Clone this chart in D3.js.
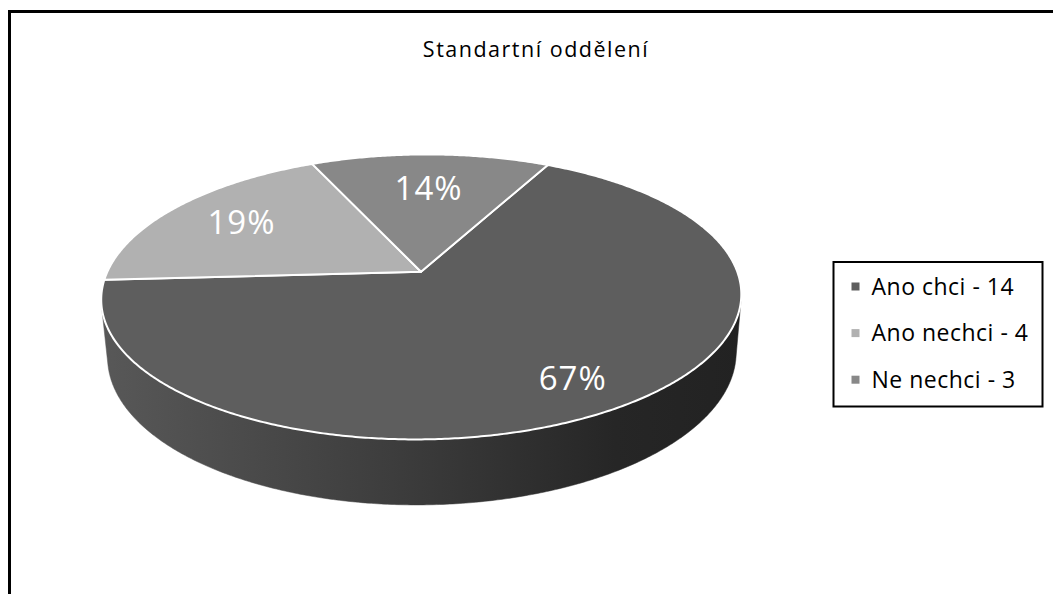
<!DOCTYPE html>
<html>
<head>
<meta charset="utf-8">
<script src="https://cdn.jsdelivr.net/npm/d3@7"></script>
<style>
  html, body { margin: 0; padding: 0; background: #fff; }
  svg { display: block; }
</style>
</head>
<body>
<svg id="chart" width="1053" height="594"></svg>
<script>
// ---- data ----
const chartTitle = "Standartní oddělení";
const categories = ["Ano chci", "Ano nechci", "Ne nechci"];
const values = [14, 4, 3];

// ---- styles ----
const sliceColors = ["#5e5e5e", "#b1b1b1", "#888888"];
const labelRadius = [0.8, 0.72, 0.68];   // where each percentage sits on the top face (fraction of radius)
const startDeg = 28;                      // rotation of the first slice, clockwise from the back

const svg = d3.select("#chart");

// outer chart frame (runs off the right and bottom edges)
svg.append("rect")
  .attr("x", 9.5).attr("y", 11.5)
  .attr("width", 1200).attr("height", 800)
  .attr("fill", "#fff").attr("stroke", "#000").attr("stroke-width", 3);

// ---- simple perspective camera for the 3D disc ----
const cx = 421, cy = 271.7;
const tilt = Math.asin(138 / 315);          // elevation of the camera
const dist = Math.cos(tilt) / 0.177;        // camera distance in disc radii
const focal = 315 * dist;
const thickness = 0.205;                    // disc height in radii

// phi: angle clockwise from the back of the disc, r: radius fraction, h: height (0 = top)
function project(phi, r, h) {
  const x = r * Math.sin(phi), z = r * Math.cos(phi);
  const up = z * Math.sin(tilt) + h * Math.cos(tilt);
  const depth = dist + z * Math.cos(tilt) - h * Math.sin(tilt);
  return [cx + focal * x / depth, cy - focal * up / depth];
}
function arcPoints(a0, a1, h) {
  const n = Math.max(2, Math.ceil(Math.abs(a1 - a0) / (Math.PI / 360)));
  return d3.range(n + 1).map(i => project(a0 + (a1 - a0) * i / n, 1, h));
}
const line = d3.line();

const pie = d3.pie().sort(null)
  .startAngle(startDeg * Math.PI / 180)
  .endAngle(startDeg * Math.PI / 180 + 2 * Math.PI);
const arcs = pie(values);
const total = d3.sum(values);

// side wall shading
const defs = svg.append("defs");
const grad = defs.append("linearGradient").attr("id", "sideShade")
  .attr("gradientUnits", "userSpaceOnUse")
  .attr("x1", 101).attr("x2", 742).attr("y1", 0).attr("y2", 0);
[[0, "#585858"], [0.45, "#3d3d3d"], [0.8, "#262626"], [1, "#222222"]]
  .forEach(([o, c]) => grad.append("stop").attr("offset", o).attr("stop-color", c));

const pieG = svg.append("g").attr("transform", `rotate(-0.6 ${cx} ${cy})`);

// visible part of the cylinder wall (facing the camera)
const silhouette = Math.acos(-1 / (dist * Math.cos(tilt)));
const visA = silhouette, visB = 2 * Math.PI - silhouette;

arcs.forEach((d, i) => {
  const segs = [];
  for (const shift of [0, -2 * Math.PI, 2 * Math.PI]) {
    const a0 = Math.max(d.startAngle + shift, visA);
    const a1 = Math.min(d.endAngle + shift, visB);
    if (a1 > a0) segs.push([a0, a1]);
  }
  segs.forEach(([a0, a1]) => {
    const top = arcPoints(a0, a1, 0);
    const bottom = arcPoints(a1, a0, -thickness);
    pieG.append("path")
      .attr("d", line(top.concat(bottom)) + "Z")
      .attr("fill", "url(#sideShade)")
      .attr("stroke", "url(#sideShade)").attr("stroke-width", 0.5);
  });
});

// top faces
arcs.forEach((d, i) => {
  const pts = [project(0, 0, 0)].concat(arcPoints(d.startAngle, d.endAngle, 0));
  pieG.append("path")
    .attr("d", line(pts) + "Z")
    .attr("fill", sliceColors[i])
    .attr("stroke", "#fff").attr("stroke-width", 2)
    .attr("stroke-linejoin", "round");
});

// percentage labels
arcs.forEach((d, i) => {
  const mid = (d.startAngle + d.endAngle) / 2;
  const [lx, ly] = project(mid, labelRadius[i], 0);
  svg.append("text")
    .attr("x", lx).attr("y", ly).attr("dy", "0.36em")
    .attr("text-anchor", "middle")
    .attr("font-family", "'Open Sans', sans-serif")
    .attr("font-size", 33)
    .attr("letter-spacing", 1)
    .attr("fill", "#fff")
    .text(Math.round(d.value / total * 100) + "%");
});

// title
svg.append("text")
  .attr("x", 536).attr("y", 57)
  .attr("text-anchor", "middle")
  .attr("font-family", "'Open Sans', sans-serif")
  .attr("font-size", 21.5)
  .attr("letter-spacing", 1.5)
  .attr("fill", "#000")
  .text(chartTitle);

// legend
const legend = svg.append("g");
legend.append("rect")
  .attr("x", 833.5).attr("y", 262).attr("width", 209).attr("height", 144.5)
  .attr("fill", "#fff").attr("stroke", "#000").attr("stroke-width", 2);
const rowY = d3.scalePoint().domain(categories).range([286.5, 379.7]);
categories.forEach((c, i) => {
  const y = rowY(c);
  legend.append("rect")
    .attr("x", 851.5).attr("y", y - 4).attr("width", 8).attr("height", 8)
    .attr("fill", sliceColors[i]);
  legend.append("text")
    .attr("x", 871.5).attr("y", y).attr("dy", "0.36em")
    .attr("font-family", "'Open Sans', sans-serif")
    .attr("font-size", 23)
    .attr("letter-spacing", 0.5)
    .attr("fill", "#000")
    .text(`${c} - ${values[i]}`);
});
</script>
</body>
</html>
